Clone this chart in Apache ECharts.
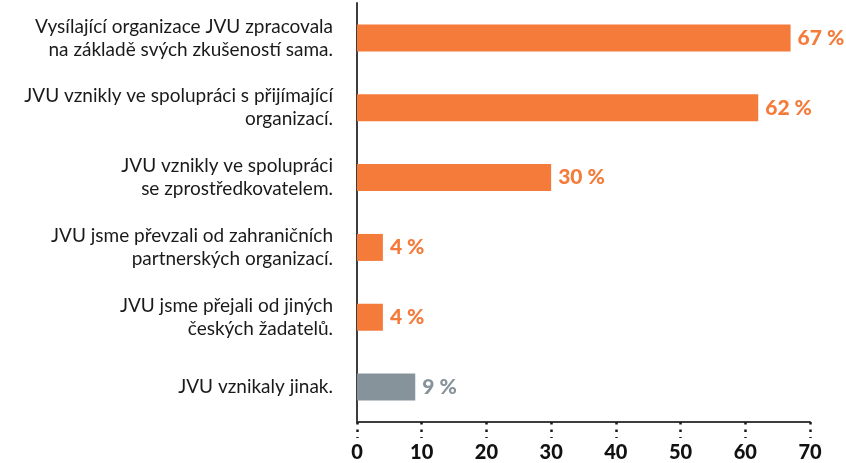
<!DOCTYPE html>
<html>
<head>
<meta charset="utf-8">
<script src="https://cdn.jsdelivr.net/npm/echarts@6/dist/echarts.min.js"></script>
<style>html,body{margin:0;padding:0;background:#fff}#c{width:846px;height:463px}</style>
</head>
<body>
<div id="c"></div>
<script>
const categories = [
  "Vysílající organizace JVU zpracovala\nna základě svých zkušeností sama.",
  "JVU vznikly ve spolupráci s přijímající\norganizací.",
  "JVU vznikly ve spolupráci\nse zprostředkovatelem.",
  "JVU jsme převzali od zahraničních\npartnerských organizací.",
  "JVU jsme přejali od jiných\nčeských žadatelů.",
  "JVU vznikaly jinak."
];
const values = [67, 62, 30, 4, 4, 9];
const barColors = ["#F57B3B", "#F57B3B", "#F57B3B", "#F57B3B", "#F57B3B", "#87939B"];
const xTicks = [0, 10, 20, 30, 40, 50, 60, 70];

const chart = echarts.init(document.getElementById('c'));
chart.setOption({
  animation: false,
  grid: { left: 357, right: 36, top: 3, bottom: 39, containLabel: false },
  xAxis: {
    type: 'value', min: xTicks[0], max: xTicks[xTicks.length - 1], interval: 10,
    splitLine: { show: false },
    axisLine: { show: true, lineStyle: { color: '#3d3d3d', width: 2 } },
    axisTick: { show: true, length: 16, lineStyle: { color: '#1a1a1a', width: 2.5, type: [2.5, 5] } },
    axisLabel: { margin: 21, fontFamily: 'Lato', fontWeight: 900, fontSize: 20, color: '#111' }
  },
  yAxis: {
    type: 'category', data: categories, inverse: true,
    axisLine: { show: true, lineStyle: { color: '#3d3d3d', width: 2 } },
    axisTick: { show: false },
    axisLabel: { margin: 24, fontFamily: 'Lato', fontSize: 19, color: '#1a1a1a', lineHeight: 23, align: 'right' }
  },
  series: [{
    type: 'bar', barWidth: 27,
    data: values.map((v, i) => ({
      value: v,
      itemStyle: { color: barColors[i] },
      label: { color: barColors[i] }
    })),
    label: {
      show: true, position: 'right', distance: 7,
      formatter: p => p.value + ' %',
      fontFamily: 'Lato', fontWeight: 900, fontSize: 21
    }
  }]
});
</script>
</body>
</html>
